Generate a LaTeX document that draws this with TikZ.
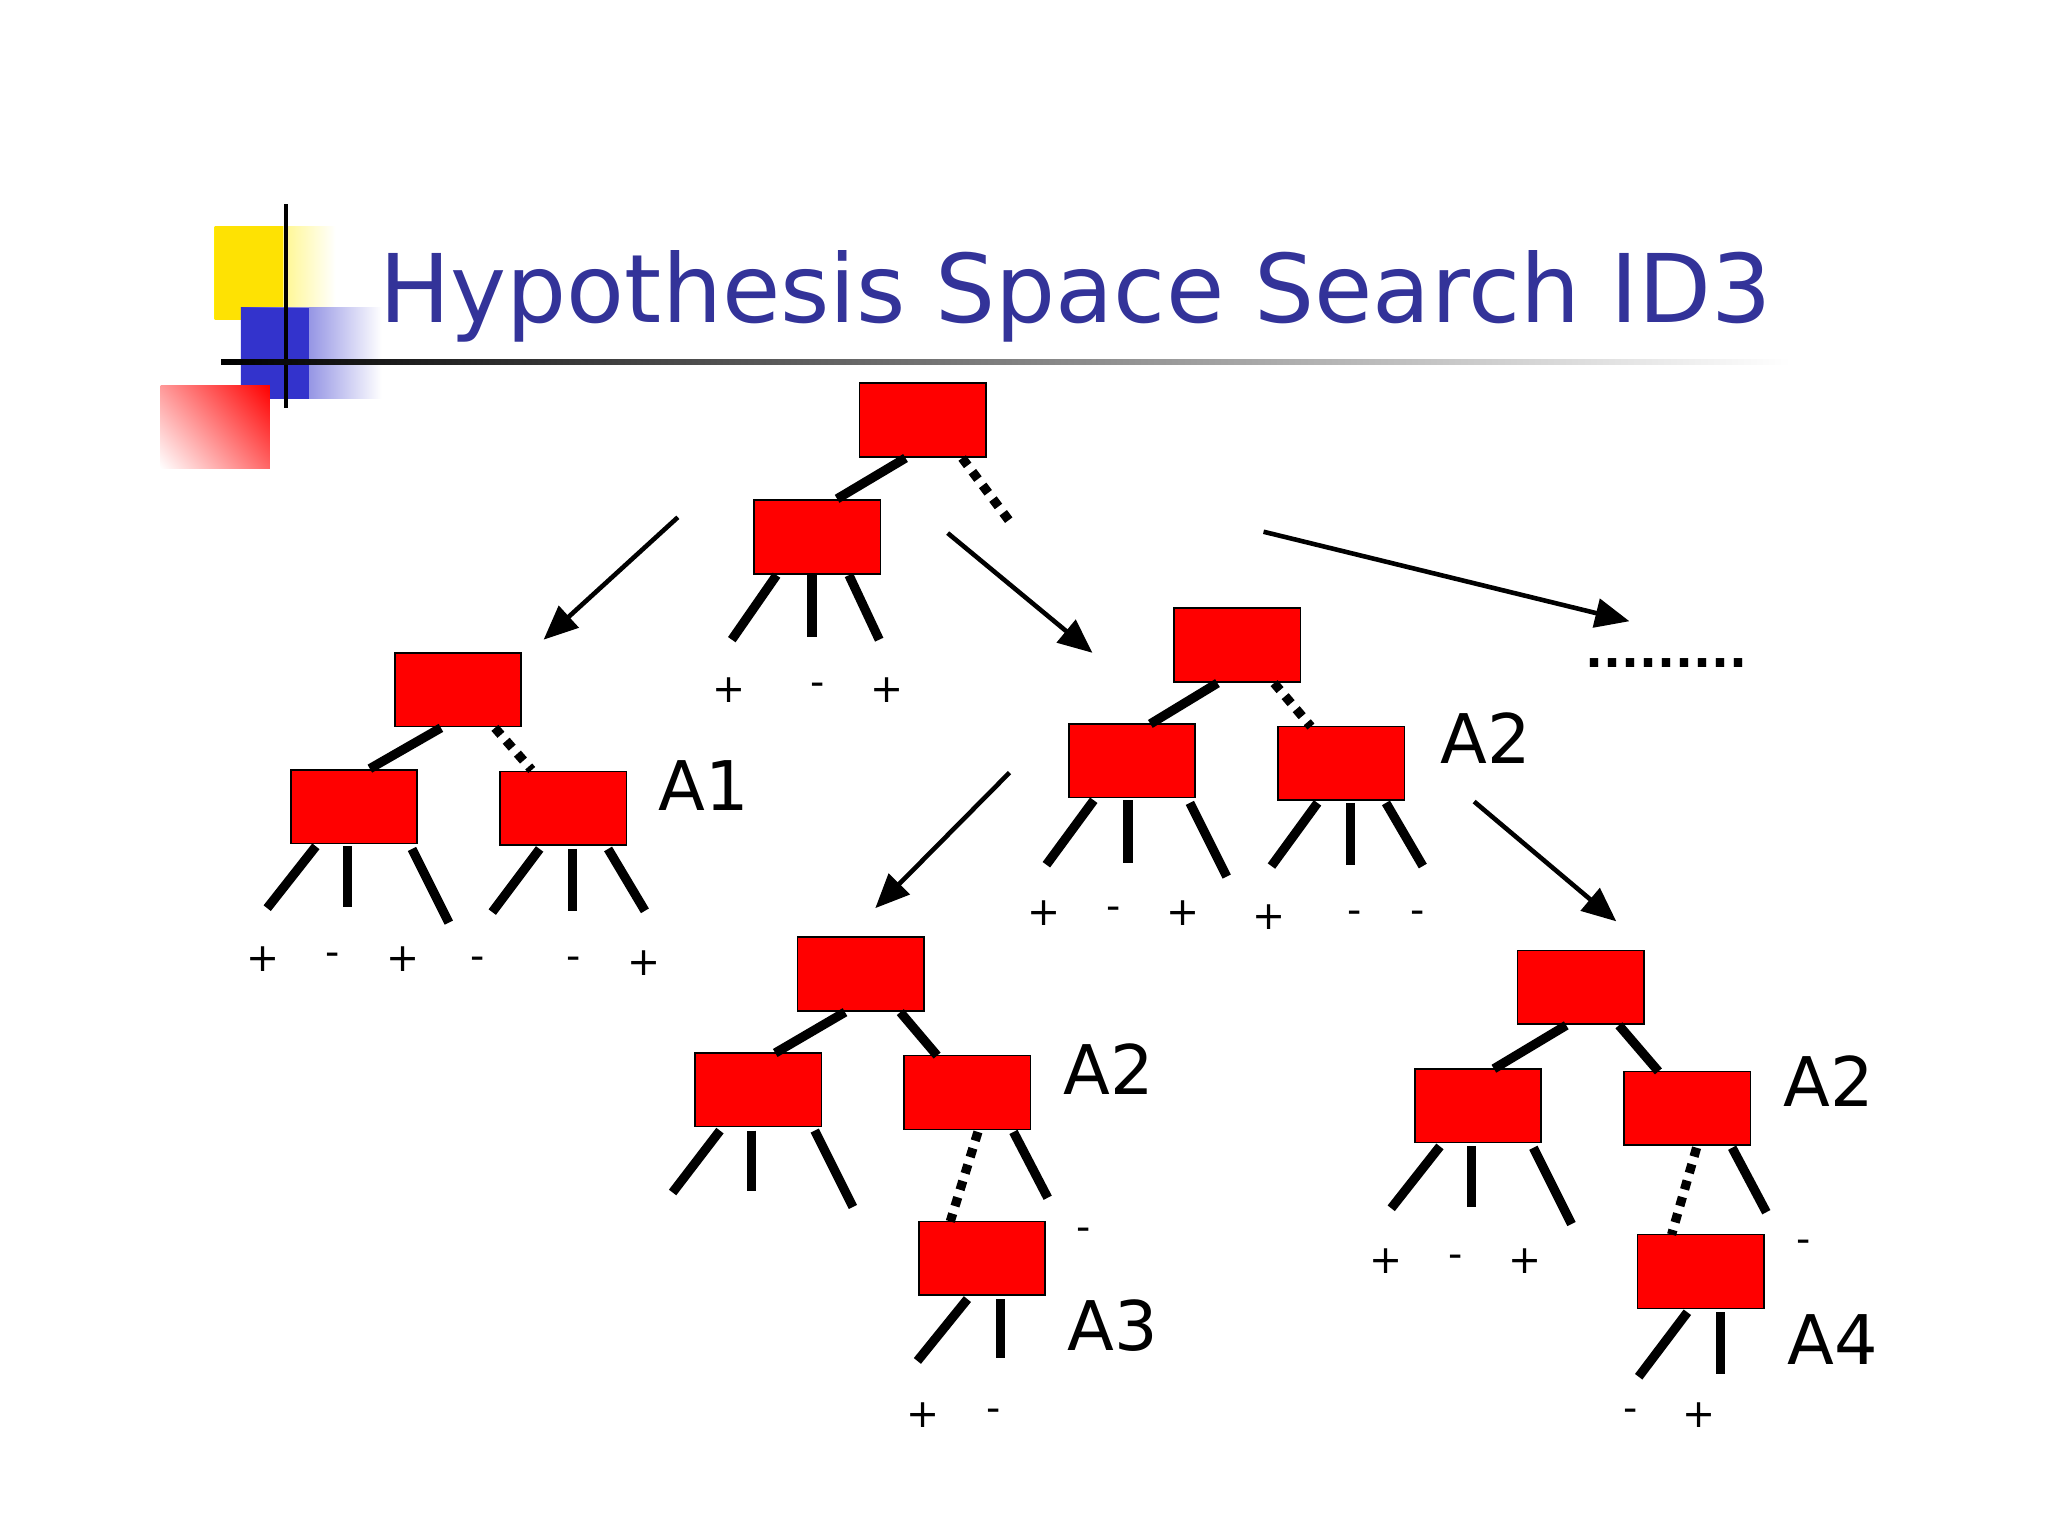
\documentclass[tikz,border=0pt]{standalone}
\usepackage{fontspec}
\setmainfont{DejaVu Sans}
\usetikzlibrary{arrows.meta,shadings}
\begin{document}
\begin{tikzpicture}[x=1pt,y=-1pt,
  rbox/.style={draw=black,line width=1.2pt,fill=red,minimum width=96pt,minimum height=56pt,inner sep=0pt},
  br/.style={line width=7pt},
  dbr/.style={line width=7pt,dash pattern=on 7pt off 6pt},
  arr/.style={line width=3.5pt,-{Triangle[length=26pt,width=22pt]}},
  pm/.style={font=\fontsize{30}{30}\selectfont,inner sep=0pt},
  lab/.style={font=\fontsize{52}{52}\selectfont,inner sep=0pt,anchor=west}]
\useasboundingbox (0,0) rectangle (1556,1169);
\fill[white] (0,0) rectangle (1556,1169);
% logo
\shade[left color=yellow!85!orange,right color=white] (163,172) rectangle (255,243);
\fill[yellow!85!orange] (163,172) rectangle (215,243);
\shade[left color=blue!75!black!80,right color=white] (183,234) rectangle (290,303);
\fill[blue!75!black!80] (183,234) rectangle (235,303);
\shade[upper right=red,lower left=white,upper left=red!40,lower right=red!60] (122,293) rectangle (205,356);
\draw[line width=3pt] (217,155) -- (217,310);
\shade[left color=black,right color=white] (168,273) rectangle (1360,277);
\node[anchor=base west,inner sep=0pt,text={rgb,255:red,51;green,51;blue,153},font=\fontsize{72}{72}\selectfont] (title) at (288,245) {Hypothesis Space Search ID3};
% top tree
\node[rbox] (r) at (701,319) {};
\node[rbox] (r1) at (621,408) {};
\draw[br] (688,348) -- (636,379);
\draw[dbr] (731,348) -- (767,396);
\draw[br] (590,437) -- (556,486); \draw[br] (617,437) -- (617,484); \draw[br] (645,437) -- (668,486);
\node[pm] at (554,524) {+}; \node[pm] at (621,524) {-}; \node[pm] at (674,524) {+};
\draw[arr] (515,393) -- (413,486);
\draw[arr] (720,405) -- (830,496);
\draw[arr] (960,404) -- (1238,472);
\node[pm,font=\bfseries\fontsize{36}{36}\selectfont,anchor=base] (dots) at (1266,507) {.........};
% left tree
\node[rbox] (a) at (348,524) {};
\node[rbox] (a1) at (269,613) {};
\node[rbox] (a2) at (428,614) {};
\draw[br] (335,553) -- (281,584); \draw[dbr] (376,553) -- (404,585);
\draw[br] (240,643) -- (203,690); \draw[br] (264,643) -- (264,689); \draw[br] (313,645) -- (341,701);
\draw[br] (410,645) -- (374,693); \draw[br] (435,645) -- (435,692); \draw[br] (462,645) -- (490,692);
\node[pm] at (200,729) {+}; \node[pm] at (253,729) {-}; \node[pm] at (306,729) {+};
\node[pm] at (363,732) {-}; \node[pm] at (436,732) {-}; \node[pm] at (489,732) {+};
\node[lab] at (500,597) {A1};
% middle tree
\node[rbox] (b) at (940,490) {};
\node[rbox] (b1) at (860,578) {};
\node[rbox] (b2) at (1019,580) {};
\draw[br] (925,519) -- (874,550); \draw[dbr] (968,519) -- (996,552);
\draw[br] (831,608) -- (795,657); \draw[br] (857,608) -- (857,656); \draw[br] (904,610) -- (932,666);
\draw[br] (1001,610) -- (966,658); \draw[br] (1026,610) -- (1026,657); \draw[br] (1053,610) -- (1081,658);
\node[pm] at (793,694) {+}; \node[pm] at (846,694) {-}; \node[pm] at (899,694) {+};
\node[pm] at (964,697) {+}; \node[pm] at (1029,697) {-}; \node[pm] at (1077,697) {-};
\node[lab] at (1094,561) {A2};
\draw[arr] (767,587) -- (665,690);
\draw[arr] (1120,609) -- (1228,700);
% lower-left tree
\node[rbox] (c) at (654,740) {};
\node[rbox] (c1) at (576,828) {};
\node[rbox] (c2) at (735,830) {};
\node[rbox] (c3) at (746,956) {};
\draw[br] (642,769) -- (589,800); \draw[br] (684,769) -- (712,802);
\draw[br] (547,859) -- (511,906); \draw[br] (571,859) -- (571,905); \draw[br] (619,859) -- (648,917);
\draw[dbr] (743,860) -- (722,928); \draw[br] (770,860) -- (796,910);
\node[pm] at (823,938) {-};
\node[lab] at (808,812) {A2};
\draw[br] (735,987) -- (697,1034); \draw[br] (760,987) -- (760,1032);
\node[pm] at (701,1075) {+}; \node[pm] at (755,1075) {-};
\node[lab] at (811,1007) {A3};
% lower-right tree
\node[rbox] (d) at (1201,750) {};
\node[rbox] (d1) at (1123,840) {};
\node[rbox] (d2) at (1282,842) {};
\node[rbox] (d3) at (1292,966) {};
\draw[br] (1190,779) -- (1135,812); \draw[br] (1230,779) -- (1260,814);
\draw[br] (1094,871) -- (1057,918); \draw[br] (1118,871) -- (1118,917); \draw[br] (1165,872) -- (1194,930);
\draw[dbr] (1289,872) -- (1270,938); \draw[br] (1316,872) -- (1342,921);
\node[pm] at (1370,947) {-};
\node[pm] at (1053,958) {+}; \node[pm] at (1106,958) {-}; \node[pm] at (1159,958) {+};
\node[lab] at (1355,821) {A2};
\draw[br] (1282,997) -- (1245,1046); \draw[br] (1307,997) -- (1307,1044);
\node[pm] at (1239,1075) {-}; \node[pm] at (1291,1075) {+};
\node[lab] at (1358,1018) {A4};
\end{tikzpicture}
\end{document}
